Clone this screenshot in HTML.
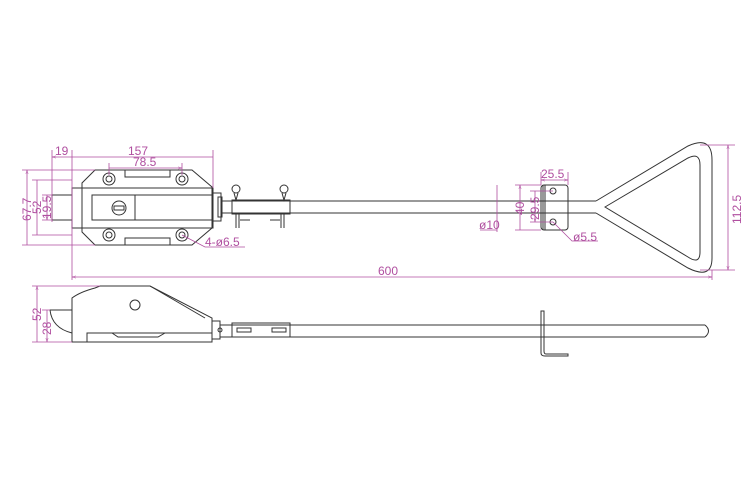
<!DOCTYPE html><html><head><style>body{margin:0;background:#fff}svg{display:block}</style></head><body>
<svg width="750" height="500" viewBox="0 0 750 500" xmlns="http://www.w3.org/2000/svg" font-family="Liberation Sans, sans-serif">
<defs><marker id="a" viewBox="0 0 10 10" refX="10" refY="5" markerWidth="5" markerHeight="5" orient="auto-start-reverse"><path d="M0,2 L10,5 L0,8" fill="none" stroke="#b04fa0"/></marker></defs>
<g fill="none" stroke="#333" stroke-width="1">
<path d="M95,170 L192,170 L212,187 L212,228 L192,245 L95,245 L82,232 L82,183 Z"/>
<rect x="125" y="170" width="45" height="7"/><rect x="125" y="238" width="45" height="7"/>
<rect x="72" y="188" width="141" height="40"/>
<rect x="52" y="195" width="20" height="25"/>
<rect x="92" y="195" width="43" height="25"/><rect x="135" y="195" width="78" height="25"/>
<circle cx="119" cy="208" r="7"/><rect x="114" y="206" width="10" height="4"/>
<circle cx="109" cy="179" r="6"/><circle cx="109" cy="179" r="3"/>
<circle cx="182" cy="179" r="6"/><circle cx="182" cy="179" r="3"/>
<circle cx="109" cy="235" r="6"/><circle cx="109" cy="235" r="3"/>
<circle cx="182" cy="235" r="6"/><circle cx="182" cy="235" r="3"/>
<rect x="213" y="193" width="8" height="28"/><rect x="218" y="197" width="4" height="20"/>
<path d="M222,201 H500 M222,213 H500"/>
<rect x="232" y="200" width="58" height="14"/>
<circle cx="236" cy="189" r="4"/><circle cx="284" cy="189" r="4"/>
<path d="M234,193 L236,200 L238,193 M282,193 L284,200 L286,193 M236,214 V228 M284,214 V228 M239,214 V228 M281,214 V228 M240,220 H250 M270,220 H280"/>
<path d="M500,201 H596 M500,213 H596"/>
<rect x="541" y="185" width="27" height="45" rx="3"/>
<path d="M543,185 V230 M545,185 V230"/>
<circle cx="553" cy="191" r="3"/><circle cx="553" cy="222" r="3"/>
<path d="M596,201 L688,146 Q712,135 712,160 V258 Q712,280 688,268 L596,213"/>
<path d="M605,207 L688,158 Q700,152 700,165 V252 Q700,265 688,257 Z"/>
<path d="M72,342 V298 Q80,292 95,288 L100,286 L150,286 L212,318 V342 Z"/>
<path d="M150,286 L205,318"/>
<path d="M87,342 V333 H212 M112,333 L118,337 H158 L165,333"/>
<path d="M72,310 H50 Q52,328 72,333"/>
<circle cx="135" cy="305" r="5"/>
<rect x="212" y="321" width="8" height="18"/><circle cx="220" cy="330" r="2"/>
<path d="M220,325 H705 M220,337 H705"/>
<path d="M705,325 Q712,331 705,337"/>
<rect x="232" y="323" width="58" height="14"/>
<rect x="237" y="328" width="14" height="4"/><rect x="272" y="328" width="14" height="4"/>
<path d="M541,311 V353 Q541,356 545,356 H568 V354 H546 Q544,354 544,351 V311 Z"/>
</g>
<g fill="none" stroke="#b04fa0" stroke-width="0.8">
<path d="M52,150 V222 M72,150 V280 M213,150 V188 M109,163 V175 M182,163 V175"/>
<path d="M52,157 H72 M72,157 H213 M109,168 H182" marker-start="url(#a)" marker-end="url(#a)"/>
<path d="M22,170 H95 M32,180 H72 M42,195 H52 M42,220 H52 M32,235 H72 M22,245 H95"/>
<path d="M27,170 V245 M37,180 V235 M47,195 V220" marker-start="url(#a)" marker-end="url(#a)"/>
<path d="M182,235 L205,247 H245"/>
<path d="M72,277 H712" marker-start="url(#a)" marker-end="url(#a)"/>
<path d="M712,270 V280"/>
<path d="M541,172 V185 M568,172 V185"/>
<path d="M541,180 H568" marker-start="url(#a)" marker-end="url(#a)"/>
<path d="M515,185 H541 M515,230 H541 M530,191 H553 M530,222 H553"/>
<path d="M520,185 V230 M535,191 V222" marker-start="url(#a)" marker-end="url(#a)"/>
<path d="M497,185 V232 M480,230 H497"/>
<path d="M553,222 L572,241 H598"/>
<path d="M700,145 H735 M700,270 H735"/>
<path d="M728,145 V270" marker-start="url(#a)" marker-end="url(#a)"/>
<path d="M32,286 H100 M32,342 H72 M42,310 H50"/>
<path d="M37,286 V342 M47,310 V342" marker-start="url(#a)" marker-end="url(#a)"/>
</g>
<g fill="#b04fa0" font-size="12">
<text x="55" y="155">19</text><text x="128" y="155">157</text><text x="133" y="166">78.5</text>
<text x="205" y="246">4-ø6.5</text><text x="378" y="275">600</text>
<text x="541" y="178">25.5</text><text x="479" y="229">ø10</text><text x="573" y="241">ø5.5</text>
<text transform="translate(31,221) rotate(-90)">67.7</text>
<text transform="translate(41,214) rotate(-90)">52</text>
<text transform="translate(51,219) rotate(-90)">19.5</text>
<text transform="translate(524,215) rotate(-90)">40</text>
<text transform="translate(539,220) rotate(-90)">29.5</text>
<text transform="translate(741,224) rotate(-90)">112.5</text>
<text transform="translate(41,321) rotate(-90)">52</text>
<text transform="translate(51,335) rotate(-90)">28</text>
</g>
</svg></body></html>
